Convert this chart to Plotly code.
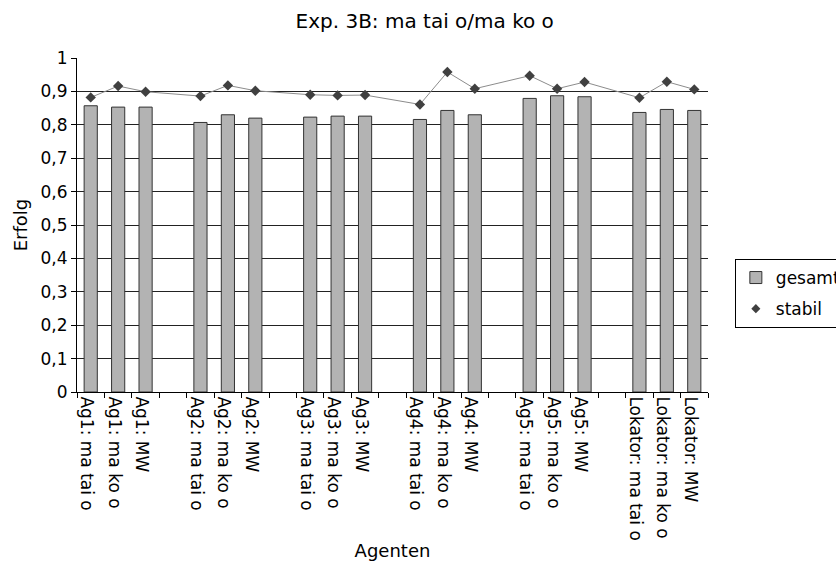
import plotly.graph_objects as go

groups = ["Ag1", "Ag2", "Ag3", "Ag4", "Ag5", "Lokator"]
variants = ["ma tai o", "ma ko o", "MW"]

gesamt = [
    [0.857, 0.853, 0.853],
    [0.807, 0.830, 0.820],
    [0.823, 0.826, 0.826],
    [0.816, 0.843, 0.830],
    [0.879, 0.887, 0.884],
    [0.837, 0.846, 0.843],
]
stabil = [
    [0.882, 0.916, 0.899],
    [0.886, 0.918, 0.902],
    [0.890, 0.888, 0.889],
    [0.861, 0.958, 0.908],
    [0.947, 0.908, 0.928],
    [0.881, 0.929, 0.906],
]

cats, yb, ys = [], [], []
for gi, g in enumerate(groups):
    for vi, v in enumerate(variants):
        cats.append(f"{g}: {v}")
        yb.append(gesamt[gi][vi])
        ys.append(stabil[gi][vi])
    if gi < len(groups) - 1:
        cats.append("\u200b" * (gi + 1))
        yb.append(None)
        ys.append(None)

font = "DejaVu Sans, Verdana, sans-serif"

fig = go.Figure()
fig.add_trace(go.Bar(
    x=cats, y=yb, name="gesamt", legendgroup="a",
    marker=dict(color="#b3b3b3", line=dict(color="#333333", width=1)),
))
fig.add_trace(go.Scatter(
    x=cats, y=ys, name="stabil", mode="lines+markers", connectgaps=True,
    legendgroup="b", showlegend=False,
    line=dict(color="#8c8c8c", width=1),
    marker=dict(symbol="diamond", size=8, color="#404040"),
))
fig.add_trace(go.Scatter(
    x=[None], y=[None], name="stabil", mode="markers", legendgroup="b",
    marker=dict(symbol="diamond", size=7, color="#404040"),
))

fig.update_layout(
    width=836, height=579,
    margin=dict(l=77, r=128, t=58, b=187, autoexpand=False),
    paper_bgcolor="white", plot_bgcolor="white",
    separators=", ",
    font=dict(family=font, size=17, color="black"),
    title=dict(text="Exp. 3B: ma tai o/ma ko o", x=0.508, xanchor="center",
               y=0.963, yanchor="middle", font=dict(size=20)),
    bargap=0.52,
    showlegend=True,
    legend=dict(xref="container", yref="container", x=0.879, y=0.5527,
                xanchor="left", yanchor="top",
                bordercolor="black", borderwidth=1, bgcolor="white",
                font=dict(size=17), tracegroupgap=6, traceorder="grouped"),
)
fig.update_xaxes(
    type="category", categoryorder="array", categoryarray=cats,
    range=[-0.5, len(cats) - 0.5],
    tickson="boundaries", ticks="outside", ticklen=5, tickcolor="black",
    tickangle=90, ticklabelshift=-4,
    showline=True, linecolor="black", linewidth=1,
    showgrid=False, tickfont=dict(size=17),
    title=dict(text="Agenten", font=dict(size=18), standoff=4),
)
fig.update_yaxes(
    range=[0, 1], dtick=0.1, tick0=0,
    ticks="outside", ticklen=5, tickcolor="black",
    showline=True, linecolor="black", linewidth=1,
    showgrid=True, gridcolor="#222222", gridwidth=1, zeroline=False,
    tickfont=dict(size=17),
    title=dict(text="Erfolg", font=dict(size=18), standoff=8),
)

fig.write_html("out.html")
